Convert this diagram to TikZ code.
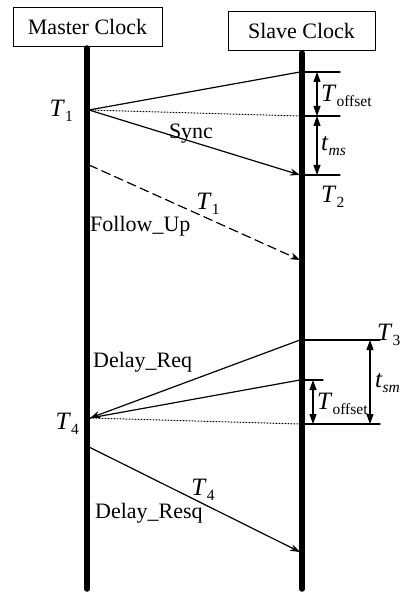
\documentclass[tikz,border=0pt]{standalone}
\usepackage{fontspec}
\setmainfont{Liberation Serif}
\usetikzlibrary{arrows.meta}
\newcommand{\tsub}[2]{{\fontsize{25}{28}\selectfont\textit{#1}}\raisebox{-0.5ex}{\fontsize{15.5}{16}\selectfont #2}}

\begin{document}
\begin{tikzpicture}[x=1pt, y=-1pt, >={Stealth[length=10pt,width=7pt]}, line cap=round,
  every node/.style={font=\fontsize{22}{26}\selectfont, inner sep=0pt},
  clockbox/.style={draw, line width=0.9pt, minimum height=39pt},
  clockline/.style={line width=5.5pt},
  msg/.style={line width=1.2pt},
  tick/.style={line width=1.1pt},
  dim/.style={line width=1.1pt, {Triangle[length=10pt,width=7pt]}-{Triangle[length=10pt,width=7pt]}},
  lbl/.style={anchor=west}]
\useasboundingbox (0,0) rectangle (403,593);
% ---------- 时钟 ----------
\node[clockbox, minimum width=149pt] (master) at (87.5,26.5) {Master Clock};
\node[clockbox, minimum width=147pt] (slave) at (301.5,30.5) {Slave Clock};
\coordinate (mtop) at (87,48);
\coordinate (mbot) at (87,589);
\coordinate (stop) at (302,53);
\coordinate (sbot) at (302,589);
\draw[clockline] (mtop) -- (mbot);
\draw[clockline] (stop) -- (sbot);
% ---------- Sync / Follow_Up ----------
\coordinate (t1) at (89,110);
\coordinate (s1) at (300,72);
\coordinate (s1dot) at (300,116);
\coordinate (t2) at (300,175);
\draw[msg] (t1) -- (s1);
\draw[line width=1pt, dotted] (t1) -- (s1dot);
\draw[msg, ->] (t1) -- (t2);
\coordinate (fu) at (89,165);
\coordinate (fuend) at (300,260);
\draw[msg, dash pattern=on 9pt off 5pt, ->] (fu) -- (fuend);
% 右侧标注
\draw[tick] (302,72) -- (340,72);
\draw[tick] (302,116) -- (340,116);
\draw[tick] (302,175) -- (340,175);
\draw[dim] (317,72) -- (317,116);
\draw[dim] (317,116) -- (317,175);
\node[lbl] (off1) at (321,96) {\tsub{T}{offset}};
\node[lbl] (tms) at (321,146) {\tsub{t}{\itshape ms}};
\node[lbl] (t2lbl) at (321,197) {\tsub{T}{2}};
\node[anchor=east] (t1lbl) at (73,111) {\tsub{T}{1}};
\node[anchor=base] (sync) at (191,139) {Sync};
\node (t1fu) at (208,204) {\tsub{T}{1}};
\node[anchor=base west] (fulbl) at (90,232) {Follow\_Up};
% ---------- Delay_Req / Delay_Resq ----------
\coordinate (t3) at (300,340);
\coordinate (s2) at (300,380);
\coordinate (s2dot) at (300,424);
\coordinate (t4) at (90,418);
\draw[msg, ->] (t3) -- (t4);
\draw[msg] (s2) -- (t4);
\draw[line width=1pt, dotted] (t4) -- (s2dot);
\coordinate (dr) at (89,447);
\coordinate (drend) at (300,552);
\draw[msg, ->] (dr) -- (drend);
% 右侧标注
\draw[tick] (302,340) -- (380,340);
\draw[tick] (302,380) -- (323,380);
\draw[tick] (302,424) -- (380,424);
\draw[dim] (313,380) -- (313,424);
\draw[dim] (370,340) -- (370,424);
\node[lbl] (t3lbl) at (377,335) {\tsub{T}{3}};
\node[lbl] (tsm) at (375,383) {\tsub{t}{\itshape sm}};
\node[lbl] (off2) at (317,404) {\tsub{T}{offset}};
\node[anchor=east] (t4lbl) at (79,424) {\tsub{T}{4}};
\node[anchor=base west] (drlbl) at (93,367) {Delay\_Req};
\node (t4dr) at (203,490) {\tsub{T}{4}};
\node[anchor=base west] (dresq) at (95,518) {Delay\_Resq};
\end{tikzpicture}
\end{document}
